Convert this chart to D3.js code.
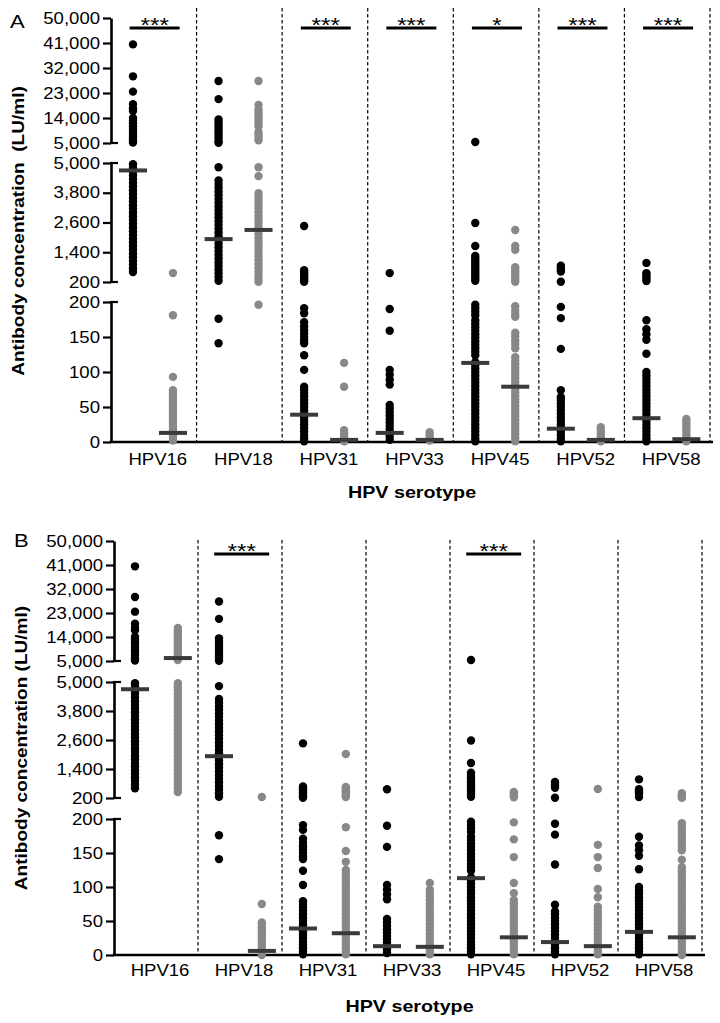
<!DOCTYPE html>
<html>
<head>
<meta charset="utf-8">
<script src="https://cdn.jsdelivr.net/npm/d3@7"></script>
<style>
  body { margin: 0; background: #fff; }
  svg { display: block; }
  text { font-family: "Liberation Sans", Arial, sans-serif; }
</style>
</head>
<body>
<script>
// ---------------- DATA ----------------
const categories = ["HPV16", "HPV18", "HPV31", "HPV33", "HPV45", "HPV52", "HPV58"];

// black series (same in panels A and B)
const blackValues = [
  [40500, 29000, 23500, 19000, 17500, 16500, 14000, 13000, 12000, 11000, 10000, 9000, 8000, 7000, 6000, 5200,
   4950, 4800, 4650, 4500, 4350, 4200, 4050, 3900, 3750, 3600, 3450, 3300, 3150, 3000, 2850, 2700, 2550, 2400,
   2250, 2100, 1950, 1800, 1650, 1500, 1350, 1200, 1050, 900, 750, 600],
  [27300, 20800, 13500, 12500, 11500, 10500, 9500, 8500, 7500, 6500, 5500, 5100, 4830, 4300, 4150, 4000, 3850,
   3700, 3550, 3400, 3250, 3100, 2950, 2800, 2650, 2500, 2350, 2200, 2050, 1900, 1750, 1600, 1450, 1300, 1150,
   1000, 850, 700, 550, 400, 250, 176, 141],
  [2460, 680, 620, 560, 500, 440, 380, 320, 260, 210, 191, 184, 171, 165, 160, 155, 150, 145, 141, 124, 103, 79,
   75, 70, 65, 60, 55, 50, 45, 40, 35, 30, 25, 20, 15, 10, 5, 1],
  [560, 190, 159, 103, 96, 89, 82, 53, 48, 43, 38, 33, 28, 23, 18, 13, 8, 3],
  [5350, 2580, 1650, 1250, 1150, 1050, 950, 850, 750, 650, 550, 450, 350, 250, 196, 191, 186, 181, 174, 169, 164,
   159, 154, 149, 144, 139, 134, 129, 124, 114, 110, 105, 100, 95, 90, 85, 80, 75, 70, 65, 60, 55, 50, 45, 40, 35,
   30, 25, 20, 15, 10, 5, 1],
  [860, 780, 700, 620, 210, 193, 177, 133, 74, 64, 60, 55, 50, 45, 40, 35, 30, 25, 20, 15, 10, 5, 1],
  [970, 560, 480, 400, 320, 240, 174, 161, 154, 146, 126, 100, 95, 90, 85, 80, 75, 70, 65, 60, 55, 50, 45, 40, 35,
   30, 25, 20, 15, 10, 5, 1]
];
const blackMedians = [4700, 1930, 39, 13, 113, 19, 34];

// grey series, panel A
const grayValuesA = [
  [560, 181, 93, 74, 70, 66, 62, 58, 54, 50, 46, 42, 38, 34, 30, 26, 22, 18, 14, 10, 6, 2],
  [27300, 18700, 17000, 16000, 15000, 14000, 13000, 12000, 11000, 9000, 8000, 7000, 6000, 4830, 4470, 3780, 3630,
   3480, 3330, 3180, 3030, 2880, 2730, 2580, 2430, 2280, 2130, 1980, 1830, 1680, 1530, 1380, 1230, 1080, 930, 780,
   630, 480, 330, 210, 196],
  [113, 79, 17, 13, 9, 5, 1],
  [14, 10, 6, 2],
  [2300, 1650, 1500, 800, 700, 600, 500, 400, 300, 210, 194, 188, 183, 179, 156, 151, 145, 140, 134, 121, 116, 111,
   106, 101, 96, 91, 86, 81, 76, 71, 66, 61, 56, 51, 46, 41, 36, 31, 26, 21, 16, 11, 6, 1],
  [21, 17, 13, 9, 5, 1],
  [33, 29, 25, 21, 17, 13, 9, 5, 1]
];
const grayMediansA = [13, 2300, 3, 3, 79, 3, 4];
const sigA = ["***", "", "***", "***", "*", "***", "***"];

// grey series, panel B
const grayValuesB = [
  [17400, 16400, 15400, 14400, 13400, 12400, 11400, 10400, 9400, 8400, 7400, 6400, 5400, 4950, 4800, 4650, 4500,
   4350, 4200, 4050, 3900, 3750, 3600, 3450, 3300, 3150, 3000, 2850, 2700, 2550, 2400, 2250, 2100, 1950, 1800,
   1650, 1500, 1350, 1200, 1050, 900, 750, 600, 450],
  [240, 75, 48, 44, 40, 36, 32, 28, 24, 20, 16, 12, 8, 4, 0],
  [2020, 660, 600, 540, 480, 420, 360, 300, 240, 188, 153, 137, 125, 120, 115, 110, 105, 100, 95, 90, 85, 80, 75,
   70, 65, 60, 55, 50, 45, 40, 35, 30, 25, 20, 15, 10, 5, 1],
  [106, 96, 91, 86, 81, 76, 71, 66, 61, 56, 51, 46, 41, 36, 31, 26, 21, 16, 11, 6, 1],
  [450, 380, 300, 230, 195, 170, 144, 106, 91, 81, 76, 71, 66, 61, 56, 51, 46, 41, 36, 31, 26, 21, 16, 11, 6, 1],
  [570, 162, 144, 128, 97, 85, 71, 66, 61, 56, 51, 46, 41, 36, 31, 26, 21, 16, 11, 6, 1],
  [400, 320, 250, 205, 194, 189, 184, 179, 174, 169, 164, 159, 154, 140, 129, 124, 119, 114, 109, 104, 99, 94, 89,
   84, 79, 74, 69, 64, 59, 54, 49, 44, 39, 34, 29, 24, 19, 14, 9, 4, 0]
];
const grayMediansB = [6100, 6, 32, 12, 26, 13, 26];
const sigB = ["", "***", "", "", "***", "", ""];

const topTicks = [5000, 14000, 23000, 32000, 41000, 50000];
const midTicks = [200, 1400, 2600, 3800, 5000];
const botTicks = [0, 50, 100, 150, 200];

// ---------------- DRAWING ----------------
const W = 720, H = 1023;
const svg = d3.select("body").append("svg").attr("width", W).attr("height", H);
const fmt = d3.format(",");
const SX = 1.16; // horizontal glyph stretch of the original figure
const BLACK = "#000", GRAY = "#888888", MED = "#3a3a3a";

function drawPanel(cfg, grayValues, grayMedians, sig) {
  const g = svg.append("g");
  const x = d3.scaleBand().domain(categories).range(cfg.xRange);
  const bw = x.bandwidth();
  const yTop = d3.scaleLinear().domain([5000, 50000]).range(cfg.top);
  const yMid = d3.scaleLinear().domain([200, 5000]).range(cfg.mid);
  const yBot = d3.scaleLinear().domain([0, 200]).range(cfg.bot);
  const y = v => v > 5000 ? yTop(v) : (v > 200 ? yMid(v) : yBot(v));
  const y0 = yBot(0);

  // dashed separators
  g.append("g").selectAll("line").data(categories).join("line")
    .attr("x1", d => x(d) + bw).attr("x2", d => x(d) + bw)
    .attr("y1", cfg.dashTop).attr("y2", y0)
    .attr("stroke", "#000").attr("stroke-width", 1.2).attr("stroke-dasharray", "3.5,2.5");

  // y axis segments
  [[yTop, topTicks], [yMid, midTicks], [yBot, botTicks]].forEach(([sc, tv]) => {
    const ax = g.append("g").attr("transform", `translate(${cfg.axisX},0)`)
      .call(d3.axisLeft(sc).tickValues(tv).tickFormat(fmt).tickSize(8).tickSizeOuter(0));
    ax.attr("font-family", null).attr("font-size", null);
    ax.select(".domain").attr("stroke", "#000").attr("stroke-width", 2.6);
    ax.selectAll(".tick line").attr("stroke", "#000").attr("stroke-width", 2.2);
    ax.selectAll(".tick text")
      .attr("fill", "#000").attr("font-size", 16)
      .attr("x", -11 / SX).attr("transform", `scale(${SX},1)`);
  });
  // break caps (ticks extending to the right at each axis break)
  g.append("g").selectAll("line")
    .data([yTop(5000), yMid(5000), yMid(200), yBot(200)]).join("line")
    .attr("x1", cfg.axisX - 1).attr("x2", cfg.axisX + 7)
    .attr("y1", d => d).attr("y2", d => d)
    .attr("stroke", "#000").attr("stroke-width", 2.2);

  // x axis
  const xa = g.append("g").attr("transform", `translate(0,${y0})`)
    .call(d3.axisBottom(x).tickSize(0).tickSizeOuter(0));
  xa.attr("font-family", null).attr("font-size", null);
  xa.select(".domain").remove();
  xa.selectAll(".tick text")
    .attr("fill", "#000").attr("font-size", 16).attr("y", 0).attr("dy", 0)
    .attr("transform", `translate(4,${cfg.catY}) scale(${SX},1)`);
  g.append("line")
    .attr("x1", cfg.axisX - 1.3).attr("x2", cfg.xAxisEnd)
    .attr("y1", y0).attr("y2", y0)
    .attr("stroke", "#000").attr("stroke-width", 2.6);

  // dots
  const blackPts = blackValues.flatMap((arr, i) => arr.map(v => ({ c: categories[i], v })));
  const grayPts = grayValues.flatMap((arr, i) => arr.map(v => ({ c: categories[i], v })));
  g.append("g").selectAll("circle").data(blackPts).join("circle")
    .attr("cx", d => x(d.c) + bw * cfg.blackFrac).attr("cy", d => y(d.v))
    .attr("r", 4.2).attr("fill", BLACK);
  g.append("g").selectAll("circle").data(grayPts).join("circle")
    .attr("cx", d => x(d.c) + bw * cfg.grayFrac).attr("cy", d => y(d.v))
    .attr("r", 4.2).attr("fill", GRAY);

  // medians
  const medW = 28;
  g.append("g").selectAll("rect").data(blackMedians).join("rect")
    .attr("x", (d, i) => x(categories[i]) + bw * cfg.blackFrac - medW / 2)
    .attr("y", d => y(d) - 2).attr("width", medW).attr("height", 4).attr("fill", MED);
  g.append("g").selectAll("rect").data(grayMedians).join("rect")
    .attr("x", (d, i) => x(categories[i]) + bw * cfg.grayFrac - medW / 2)
    .attr("y", d => y(d) - 2).attr("width", medW).attr("height", 4).attr("fill", MED);

  // significance bars
  const sigData = sig.map((s, i) => ({ s, c: categories[i] })).filter(d => d.s);
  const sg = g.append("g");
  sg.selectAll("line").data(sigData).join("line")
    .attr("x1", d => x(d.c) + bw * cfg.sigFrac - cfg.sigW / 2)
    .attr("x2", d => x(d.c) + bw * cfg.sigFrac + cfg.sigW / 2)
    .attr("y1", cfg.sigY).attr("y2", cfg.sigY)
    .attr("stroke", "#000").attr("stroke-width", 3);
  sg.selectAll("text").data(sigData).join("text")
    .attr("transform", d => `translate(${x(d.c) + bw * cfg.sigFrac},${cfg.sigY + 4}) scale(${SX},1)`)
    .attr("text-anchor", "middle").attr("font-size", 21).attr("fill", "#000")
    .text(d => d.s);

  // panel letter
  g.append("text")
    .attr("transform", `translate(${cfg.labelX},${cfg.labelY}) scale(${SX},1)`)
    .attr("font-size", 19).attr("fill", "#000").text(cfg.label);

  // axis titles
  g.append("text")
    .attr("transform", `translate(${cfg.titleX},${cfg.titleY}) rotate(-90) scale(1.12,1)`)
    .attr("text-anchor", "middle").attr("font-size", 17).attr("font-weight", "bold")
    .style("white-space", "pre").attr("fill", "#000").text(cfg.title);
  g.append("text")
    .attr("transform", `translate(${(cfg.axisX + cfg.xAxisEnd) / 2},${cfg.xTitleY}) scale(${SX},1)`)
    .attr("text-anchor", "middle").attr("font-size", 17).attr("font-weight", "bold")
    .attr("fill", "#000").text("HPV serotype");
}

drawPanel({
  label: "A", labelX: 10, labelY: 28,
  axisX: 111, xRange: [111, 710], xAxisEnd: 713,
  top: [143, 18], mid: [282, 163], bot: [442, 302],
  dashTop: 8, sigY: 28, sigFrac: 0.51, sigW: 50,
  catY: 23, titleX: 24, titleY: 231, xTitleY: 498,
  blackFrac: 0.257, grayFrac: 0.724,
  title: "Antibody concentration  (LU/ml)"
}, grayValuesA, grayMediansA, sigA);

drawPanel({
  label: "B", labelX: 14, labelY: 547,
  axisX: 114, xRange: [114, 702], xAxisEnd: 705,
  top: [661, 541], mid: [798, 682], bot: [955, 819],
  dashTop: 540, sigY: 554, sigFrac: 0.52, sigW: 55,
  catY: 21, titleX: 27, titleY: 748, xTitleY: 1012,
  blackFrac: 0.25, grayFrac: 0.76,
  title: "Antibody concentration (LU/ml)"
}, grayValuesB, grayMediansB, sigB);
</script>
</body>
</html>
